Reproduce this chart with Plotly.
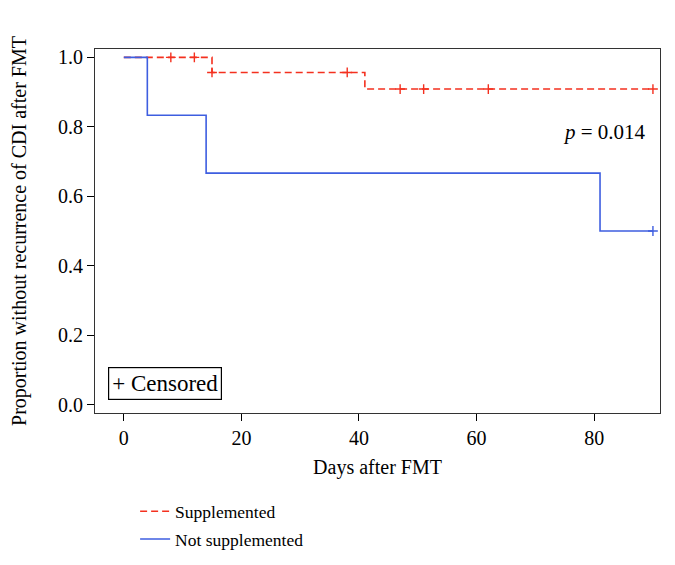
import plotly.graph_objects as go

# Kaplan-Meier step data
sup_days = [0, 15, 41, 90]
sup_surv = [1.0, 0.9565, 0.9087, 0.9087]
sup_cens_days = [8, 12, 15, 38, 47, 51, 62, 90]
sup_cens_surv = [1.0, 1.0, 0.9565, 0.9565, 0.9087, 0.9087, 0.9087, 0.9087]

not_days = [0, 4, 14, 81, 90]
not_surv = [1.0, 0.8333, 0.6667, 0.5, 0.5]
not_cens_days = [90]
not_cens_surv = [0.5]

x_ticks = [0, 20, 40, 60, 80]
y_ticks = [0.0, 0.2, 0.4, 0.6, 0.8, 1.0]

RED = "#F4301F"
BLUE = "#3E5EE0"
FONT = "Liberation Serif"

fig = go.Figure()
fig.add_trace(go.Scatter(x=sup_days, y=sup_surv, mode="lines", line_shape="hv",
                         line=dict(color=RED, width=1.6, dash="7px,4px"),
                         name="Supplemented", legendgroup="a"))
fig.add_trace(go.Scatter(x=not_days, y=not_surv, mode="lines", line_shape="hv",
                         line=dict(color=BLUE, width=1.6),
                         name="Not supplemented", legendgroup="b"))
fig.add_trace(go.Scatter(x=sup_cens_days, y=sup_cens_surv, mode="markers",
                         marker=dict(symbol="cross-thin", size=7, line=dict(color=RED, width=1.4)),
                         showlegend=False))
fig.add_trace(go.Scatter(x=not_cens_days, y=not_cens_surv, mode="markers",
                         marker=dict(symbol="cross-thin", size=7, line=dict(color=BLUE, width=1.4)),
                         showlegend=False))

fig.add_annotation(x=89.2, y=0.785, xref="x", yref="y", xanchor="right", yanchor="middle",
                   text="<i>p</i> = 0.014", showarrow=False, font=dict(family=FONT, size=21, color="black"))
fig.add_annotation(x=-2.7, y=0.014, xref="x", yref="y", xanchor="left", yanchor="bottom",
                   text="+ Censored", showarrow=False, bordercolor="black", borderwidth=1.2,
                   borderpad=3, bgcolor="white", font=dict(family=FONT, size=23, color="black"))

fig.update_layout(
    width=675, height=565,
    margin=dict(l=87, r=23, t=41, b=160),
    paper_bgcolor="white", plot_bgcolor="white",
    font=dict(family=FONT, size=17, color="black"),
    showlegend=True,
    legend=dict(x=0.071, y=-0.221, xanchor="left", yanchor="top", orientation="v",
                font=dict(family=FONT, size=17.5), tracegroupgap=2, bgcolor="rgba(0,0,0,0)"),
    xaxis=dict(range=[-4.9, 91.2], tickvals=x_ticks, ticks="outside", ticklen=7,
               tickcolor="black", tickfont=dict(size=20), showline=True, linecolor="#333",
               linewidth=1.2, mirror=True, showgrid=False, zeroline=False, automargin=False,
               title=dict(text="Days after FMT", standoff=11)),
    yaxis=dict(range=[-0.024, 1.024], tickvals=y_ticks, tickformat=".1f", ticks="outside",
               ticklen=7, tickcolor="black", tickfont=dict(size=20), showline=True,
               linecolor="#333", linewidth=1.2, mirror=True, showgrid=False, zeroline=False,
               automargin=False,
               title=dict(text="Proportion without recurrence of CDI after FMT", standoff=26)),
)

fig.write_html("out.html")
